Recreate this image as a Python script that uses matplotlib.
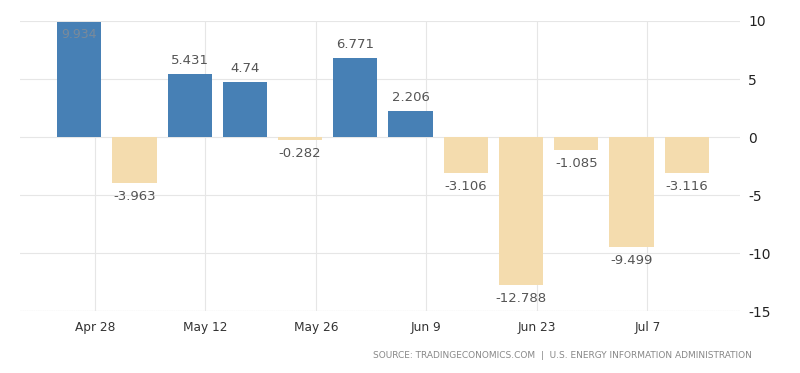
import numpy as np
import pandas as pd
import matplotlib
matplotlib.use("Agg")
import matplotlib.pyplot as plt
import matplotlib.dates as mdates

# weekly crude oil stock change (million barrels), week ending
weeks = pd.date_range("2019-04-26", periods=12, freq="7D")
values = [9.934, -3.963, 5.431, 4.74, -0.282, 6.771, 2.206,
          -3.106, -12.788, -1.085, -9.499, -3.116]
labels = ["9.934", "-3.963", "5.431", "4.74", "-0.282", "6.771", "2.206",
          "-3.106", "-12.788", "-1.085", "-9.499", "-3.116"]
tick_dates = pd.to_datetime(["2019-04-28", "2019-05-12", "2019-05-26",
                             "2019-06-09", "2019-06-23", "2019-07-07"])
tick_labels = ["Apr 28", "May 12", "May 26", "Jun 9", "Jun 23", "Jul 7"]
yticks = [10, 5, 0, -5, -10, -15]

plt.rcParams['font.family'] = ['DejaVu Sans']

blue = "#4780b5"
sand = "#f4dcae"
grid_c = "#e6e6e6"

fig = plt.figure(figsize=(8, 3.73), dpi=100)
ax = fig.add_axes([0.025, 0.1662, 0.9, 0.7775])

x = mdates.date2num(weeks)
colors = [blue if v >= 0 else sand for v in values]
ax.bar(x, values, width=5.6, color=colors, zorder=2)

for xi, v, lab in zip(x, values, labels):
    if v >= 9.5:
        ax.text(xi, v - 0.5, lab, ha="center", va="top", fontsize=9, color="#7a8a9a", zorder=3)
    elif v >= 0:
        ax.text(xi, v + 0.6, lab, ha="center", va="bottom", fontsize=9.5, color="#555555", zorder=3)
    else:
        ax.text(xi, v - 0.6, lab, ha="center", va="top", fontsize=9.5, color="#555555", zorder=3)

ax.set_ylim(-15, 10)
ax.set_xlim(mdates.date2num(pd.Timestamp("2019-04-18 12:00")),
            mdates.date2num(pd.Timestamp("2019-07-18 18:00")))

ax.yaxis.tick_right()
ax.set_yticks(yticks)
ax.set_yticklabels([str(t) for t in yticks], fontsize=10, color="#222222")
ax.set_xticks(mdates.date2num(tick_dates))
ax.set_xticklabels(tick_labels, fontsize=8.7, color="#333333")
ax.tick_params(axis="both", length=0)
ax.tick_params(axis="y", pad=6)
ax.tick_params(axis="x", pad=7)

ax.grid(True, color=grid_c, linewidth=0.8, zorder=0)
for s in ax.spines.values():
    s.set_visible(False)
ax.axhline(-15, color="#d0d0d0", linewidth=0.8, linestyle=(0, (1, 1)), zorder=1)

fig.text(0.94, 0.035, "SOURCE: TRADINGECONOMICS.COM  |  U.S. ENERGY INFORMATION ADMINISTRATION",
         ha="right", va="bottom", fontsize=6.5, color="#888888")

fig.savefig("out.png", dpi=100)
